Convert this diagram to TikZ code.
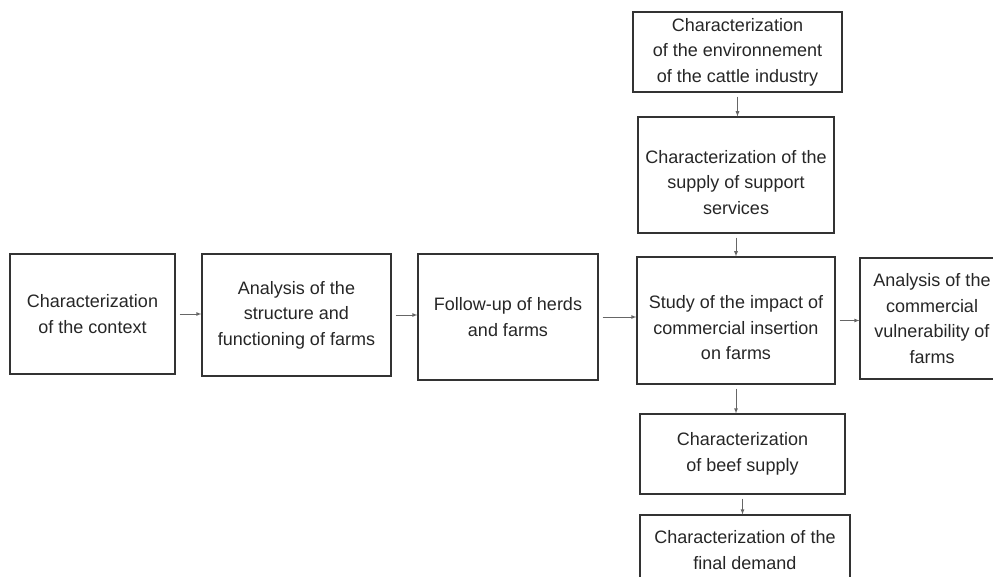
\documentclass[tikz,border=0pt]{standalone}
\usepackage{fontspec}
\setmainfont{Liberation Sans}
\usetikzlibrary{arrows}

\tikzset{
  stage/.style={draw=black!80, line width=1.1pt, align=center, inner sep=0pt,
    font=\fontsize{18}{25.5}\selectfont, text=black!85},
  flow/.style={->, >=latex, draw=black!60, line width=0.8pt, shorten <=4pt}
}
\newcommand{\lowstrut}{\rule{0pt}{28pt}}

\begin{document}
\begin{tikzpicture}[x=1pt,y=-1pt]
  \useasboundingbox (0,0) rectangle (993,577);
  \clip (0,0) rectangle (993,577);
  % main chain
  \node[stage, minimum width=165, minimum height=120] (ctx) at (92.5,314)
    {Characterization\\of the context};
  \node[stage, minimum width=189, minimum height=122] (struct) at (296.5,315)
    {Analysis of the\\structure and\\functioning of farms};
  \node[stage, minimum width=180, minimum height=126] (follow) at (508,317)
    {Follow-up of herds\\and farms};
  \node[stage, minimum width=198, minimum height=127] (impact) at (736,320.5)
    {\lowstrut Study of the impact of\\commercial insertion\\on farms};
  \node[stage, minimum width=144, minimum height=121] (vuln) at (932,318.5)
    {Analysis of the\\commercial\\vulnerability of\\farms};
  %
  \node[stage, minimum width=209, minimum height=80] (env) at (737.5,52)
    {Characterization\\of the environnement\\of the cattle industry};
  \node[stage, minimum width=196, minimum height=116] (support) at (736,175)
    {\lowstrut Characterization of the\\supply of support\\services};
  \node[stage, minimum width=205, minimum height=80] (beef) at (742.5,454)
    {Characterization\\of beef supply};
  \node[stage, minimum width=210, minimum height=70] (demand) at (745,550)
    {Characterization of the\\final demand};
  %
  \draw[flow] (ctx.east) -- (ctx.east -| struct.west);
  \draw[flow] (struct.east) -- (struct.east -| follow.west);
  \draw[flow] (follow.east) -- (follow.east -| impact.west);
  \draw[flow] (impact.east) -- (impact.east -| vuln.west);
  \draw[flow] (env.south) -- (env.south |- support.north);
  \draw[flow] (support.south) -- (support.south |- impact.north);
  \draw[flow] (impact.south) -- (impact.south |- beef.north);
  \draw[flow] (beef.south) -- (beef.south |- demand.north);
\end{tikzpicture}
\end{document}
